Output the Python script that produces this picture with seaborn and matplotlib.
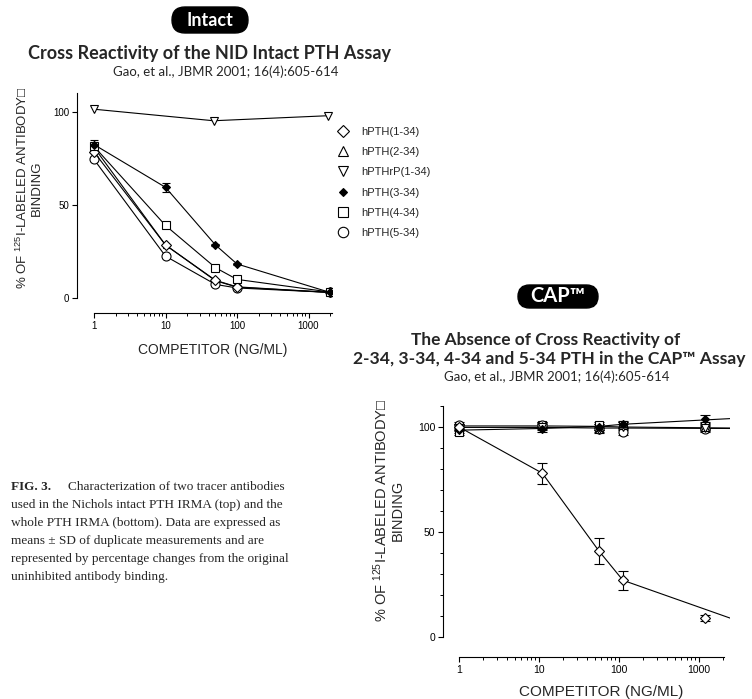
import numpy as np
import pandas as pd
import matplotlib
matplotlib.use('Agg')
import matplotlib.pyplot as plt
import seaborn as sns
from matplotlib.ticker import FuncFormatter, MultipleLocator, NullFormatter, FixedLocator
from matplotlib.lines import Line2D
from matplotlib.patches import FancyBboxPatch

# ---- data: top chart (Intact PTH assay) ----
x_intact = [1, 10, 50, 100, 2000]
intact_1_34 = [78.5, 28.5, 9.5, 6, 3]
intact_2_34 = [81, 28.5, 9.3, 5.8, 3]
intact_3_34 = [82.5, 59.5, 28.5, 18.3, 3]
intact_3_34_err = [2.5, 2.3, 0.5, 0.5, 0.3]
intact_4_34 = [81.5, 39, 16.3, 10, 3.2]
intact_5_34 = [74.5, 22.5, 7.3, 5.4, 3]
x_intact_rp = [1, 47, 1870]
intact_rp_1_34 = [101.5, 95.3, 98]

# ---- data: bottom chart (CAP assay) ----
x_cap = [1, 11, 56, 112, 1200]
cap_1_34 = [100, 78, 41, 27, 9]
cap_1_34_err = [1.5, 5, 6, 4.5, 1.5]
cap_2_34 = [100, 100.5, 100, 101, 100]
cap_rp_1_34 = [99.5, 100, 98.5, 100, 99.5]
cap_3_34 = [98.5, 99, 100, 101.5, 104]
cap_4_34 = [97.5, 101, 101, 101, 100.5]
cap_5_34 = [101, 101, 99, 97.5, 99]
cap_small_err = [1.5, 1.5, 1.5, 1.5, 1.5]
# fitted curves drawn in the CAP panel
x_cap_fit = [1, 11, 56, 112, 2450]
cap_fit_1_34 = [100, 78, 41, 27, 9]
cap_fit_3_34 = [98.5, 99.3, 100.3, 101.3, 104]
cap_fit_flat = [100.5, 100.5, 100.3, 100, 99.5]
cap_fit_flat2 = [99.8, 99.8, 99.5, 99.5, 99.3]

legend_labels = ['hPTH(1-34)', 'hPTH(2-34)', 'hPTHrP(1-34)',
                 'hPTH(3-34)', 'hPTH(4-34)', 'hPTH(5-34)']

caption_lines = [
    'used in the Nichols intact PTH IRMA (top) and the',
    'whole PTH IRMA (bottom). Data are expressed as',
    'means \u00b1 SD of duplicate measurements and are',
    'represented by percentage changes from the original',
    'uninhibited antibody binding.',
]

sns.set_style('ticks')
plt.rcParams['font.family'] = ['Liberation Sans', 'DejaVu Sans']
plt.rcParams['mathtext.fontset'] = 'custom'
plt.rcParams['mathtext.rm'] = 'Liberation Sans'
plt.rcParams['mathtext.it'] = 'Liberation Sans'
plt.rcParams['mathtext.default'] = 'regular'

W, H = 752, 699
fig = plt.figure(figsize=(W / 100, H / 100), dpi=100)


def fx(px):
    return px / W


def fy(py):
    return 1 - py / H


title_font = ['Lato', 'DejaVu Sans']

# styles per series: marker, size, face
styles = {
    'hPTH(1-34)': ('D', 5.5, 'white'),
    'hPTH(2-34)': ('^', 6, 'white'),
    'hPTHrP(1-34)': ('v', 6, 'white'),
    'hPTH(3-34)': ('D', 4, 'black'),
    'hPTH(4-34)': ('s', 6, 'white'),
    'hPTH(5-34)': ('o', 6.5, 'white'),
}


def style_axis(ax, xlim, ylim, xspan, fs):
    ax.set_xscale('log')
    ax.set_xlim(*xlim)
    ax.set_ylim(*ylim)
    ax.spines['top'].set_visible(False)
    ax.spines['right'].set_visible(False)
    ax.spines['left'].set_bounds(0, 110)
    ax.spines['bottom'].set_bounds(1, xspan)
    for s in ['left', 'bottom']:
        ax.spines[s].set_linewidth(0.8)
        ax.spines[s].set_color('black')
    ax.set_yticks([0, 50, 100])
    ax.set_xticks([1, 10, 100, 1000])
    ax.xaxis.set_major_formatter(FuncFormatter(lambda v, p: f'{v:g}'))
    minors = [v * 10 ** k for k in range(4) for v in range(2, 10) if v * 10 ** k <= xspan]
    ax.xaxis.set_minor_locator(FixedLocator(minors))
    ax.xaxis.set_minor_formatter(NullFormatter())
    ax.tick_params(which='major', length=3.5, width=0.8, labelsize=fs, pad=2, colors='black')
    ax.tick_params(which='minor', length=2, width=0.7, colors='black')
    ax.set_xlabel('')
    ax.set_ylabel('')
    ax.grid(False)


def pill(px0, py0, px1, py1):
    # black rounded badge, given in pixel box of the figure
    w = (px1 - px0) / 100
    h = (py1 - py0) / 100
    box = FancyBboxPatch((px0 / 100, (H - py1) / 100), w, h,
                         boxstyle=f'round,pad=0,rounding_size={h / 2}',
                         transform=fig.dpi_scale_trans, fc='black', ec='black')
    fig.patches.append(box)


# ---------------- top chart ----------------
ax1 = fig.add_axes([fx(77), fy(313), fx(255), 220 / H])
top_series = [
    ('hPTH(2-34)', x_intact, intact_2_34),
    ('hPTH(5-34)', x_intact, intact_5_34),
    ('hPTH(1-34)', x_intact, intact_1_34),
    ('hPTH(4-34)', x_intact, intact_4_34),
    ('hPTH(3-34)', x_intact, intact_3_34),
    ('hPTHrP(1-34)', x_intact_rp, intact_rp_1_34),
]
ax1.errorbar(x_intact, intact_3_34, yerr=intact_3_34_err, fmt='none',
             ecolor='black', elinewidth=0.8, capsize=3, capthick=0.8, zorder=2)
for name, xs, ys in top_series:
    m, ms, fc = styles[name]
    if name == 'hPTH(2-34)':
        ms = 4.5
    sns.lineplot(x=xs, y=ys, ax=ax1, color='black', lw=0.8, marker=m, ms=ms,
                 mfc=fc, mec='black', mew=0.8, zorder=3)
style_axis(ax1, (10 ** (-17 / 71.5), 10 ** (238 / 71.5)),
           (-15 / 1.86, 205 / 1.86), 10 ** (238 / 71.5), 7)

handles = []
for name in legend_labels:
    m, ms, fc = styles[name]
    handles.append(Line2D([], [], ls='none', marker=m, ms=ms + 1 if fc == 'white' else ms,
                          mfc=fc, mec='black', mew=0.8))
fig.legend(handles, legend_labels, loc='upper left',
           bbox_to_anchor=(fx(331), fy(121)), frameon=False, fontsize=8,
           handlelength=1.2, handletextpad=1.0, labelspacing=0.93, borderpad=0)

fig.text(fx(213), fy(350), 'COMPETITOR (NG/ML)', ha='center', va='center', fontsize=10)
fig.text(fx(29), fy(188), '% OF $^{125}$I-LABELED ANTIBODY\u25a1\nBINDING',
         rotation=90, ha='center', va='center', multialignment='center',
         fontsize=9.5, linespacing=1.1)

pill(172, 7, 248, 33)
fig.text(fx(210), fy(20.5), 'Intact', ha='center', va='center', color='white',
         fontsize=13, fontweight='bold', family=title_font)
fig.text(fx(209), fy(53), 'Cross Reactivity of the NID Intact PTH Assay',
         ha='center', va='center', fontsize=13, fontweight='bold', family=title_font)
fig.text(fx(226), fy(72), 'Gao, et al., JBMR 2001; 16(4):605-614',
         ha='center', va='center', fontsize=9.5, family=title_font)

# ---------------- bottom chart ----------------
ax2 = fig.add_axes([fx(443), fy(657), fx(287), 252 / H])
fits = [
    (x_cap_fit, cap_fit_1_34),
    (x_cap_fit, cap_fit_3_34),
    (x_cap_fit, cap_fit_flat),
    (x_cap_fit, cap_fit_flat2),
]
for xs, ys in fits:
    sns.lineplot(x=xs, y=ys, ax=ax2, color='black', lw=0.8, zorder=2)

bottom_series = [
    ('hPTH(4-34)', cap_4_34),
    ('hPTH(5-34)', cap_5_34),
    ('hPTH(2-34)', cap_2_34),
    ('hPTHrP(1-34)', cap_rp_1_34),
    ('hPTH(3-34)', cap_3_34),
    ('hPTH(1-34)', cap_1_34),
]
for name, ys in bottom_series:
    err = cap_1_34_err if name == 'hPTH(1-34)' else cap_small_err
    ax2.errorbar(x_cap, ys, yerr=err, fmt='none', ecolor='black',
                 elinewidth=0.8, capsize=3.5, capthick=0.8, zorder=2)
    m, ms, fc = styles[name]
    sns.lineplot(x=x_cap, y=ys, ax=ax2, ls='none', marker=m, ms=ms, mfc=fc,
                 mec='black', mew=0.8, color='black', zorder=3)
style_axis(ax2, (10 ** (-16 / 80), 10 ** (271 / 80)),
           (-20 / 2.1, 232 / 2.1), 10 ** (265 / 80), 7.5)
ax2.yaxis.set_minor_locator(MultipleLocator(10))

fig.text(fx(601), fy(692), 'COMPETITOR (NG/ML)', ha='center', va='center', fontsize=11)
fig.text(fx(388), fy(510), '% OF $^{125}$I-LABELED ANTIBODY\u25a1\nBINDING',
         rotation=90, ha='center', va='center', multialignment='center',
         fontsize=10.5, linespacing=1.1)

pill(518, 285, 598, 308)
fig.text(fx(558), fy(296.5), 'CAP\u2122', ha='center', va='center', color='white',
         fontsize=14.5, fontweight='bold', family=title_font)
fig.text(fx(546), fy(340), 'The Absence of Cross Reactivity of',
         ha='center', va='center', fontsize=12.4, fontweight='bold', family=title_font)
fig.text(fx(549), fy(359), '2-34, 3-34, 4-34 and 5-34 PTH in the CAP\u2122 Assay',
         ha='center', va='center', fontsize=12.6, fontweight='bold', family=title_font)
fig.text(fx(557), fy(377), 'Gao, et al., JBMR 2001; 16(4):605-614',
         ha='center', va='center', fontsize=9.5, family=title_font)

# ---------------- caption ----------------
serif = ['Liberation Serif', 'DejaVu Serif']
fig.text(fx(11), fy(487), 'FIG. 3.', ha='left', va='center', fontsize=9.5,
         fontweight='bold', family=serif)
fig.text(fx(68), fy(487), 'Characterization of two tracer antibodies',
         ha='left', va='center', fontsize=9.5, family=serif)
for i, line in enumerate(caption_lines):
    fig.text(fx(11), fy(505 + i * 18), line, ha='left', va='center',
             fontsize=9.5, family=serif)

fig.savefig('out.png', dpi=100)
